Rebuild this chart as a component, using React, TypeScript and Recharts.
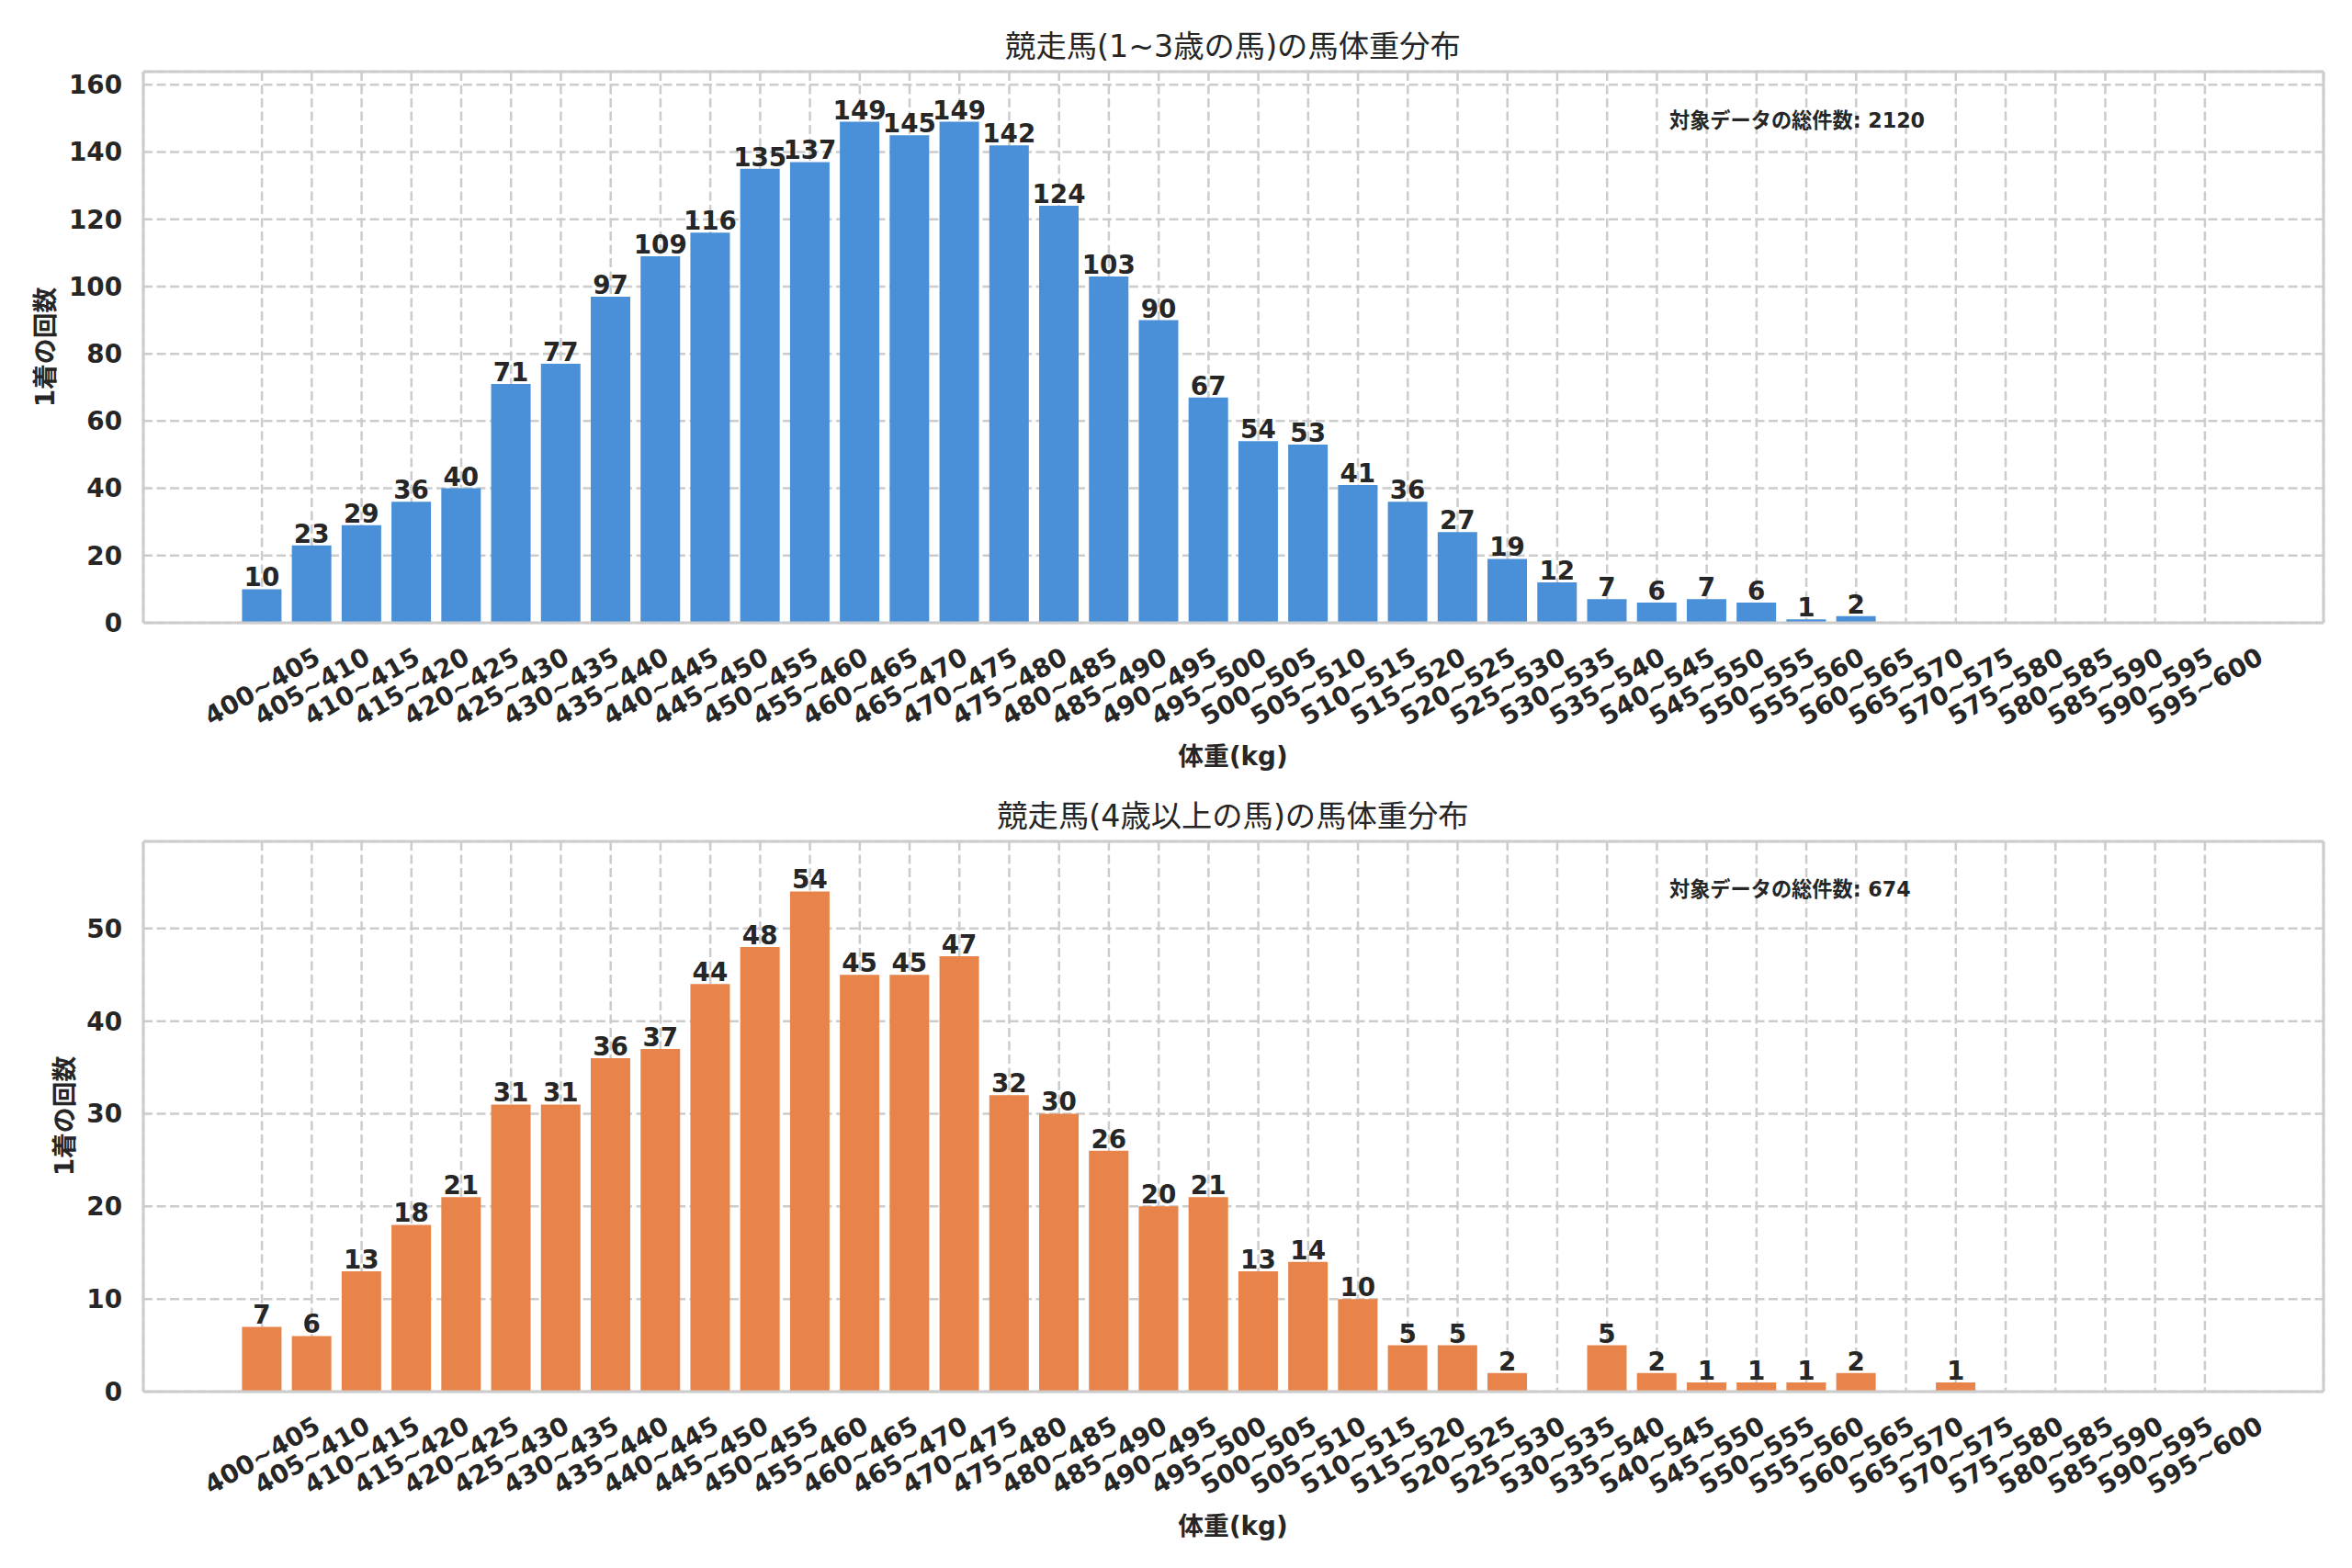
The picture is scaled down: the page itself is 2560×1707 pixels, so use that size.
import React from "react";
import { BarChart, Bar, XAxis, YAxis, CartesianGrid, LabelList } from "recharts";

const RANGES = [
  "400~405", "405~410", "410~415", "415~420", "420~425", "425~430", "430~435", "435~440",
  "440~445", "445~450", "450~455", "455~460", "460~465", "465~470", "470~475", "475~480",
  "480~485", "485~490", "490~495", "495~500", "500~505", "505~510", "510~515", "515~520",
  "520~525", "525~530", "530~535", "535~540", "540~545", "545~550", "550~555", "555~560",
  "560~565", "565~570", "570~575", "575~580", "580~585", "585~590", "590~595", "595~600",
];

const YOUNG = [
  10, 23, 29, 36, 40, 71, 77, 97, 109, 116, 135, 137, 149, 145, 149, 142, 124, 103, 90, 67,
  54, 53, 41, 36, 27, 19, 12, 7, 6, 7, 6, 1, 2, 0, 0, 0, 0, 0, 0, 0,
];

const OLDER = [
  7, 6, 13, 18, 21, 31, 31, 36, 37, 44, 48, 54, 45, 45, 47, 32, 30, 26, 20, 21,
  13, 14, 10, 5, 5, 2, 0, 5, 2, 1, 1, 1, 2, 0, 1, 0, 0, 0, 0, 0,
];

const YOUNG_TICKS = [0, 20, 40, 60, 80, 100, 120, 140, 160];
const OLDER_TICKS = [0, 10, 20, 30, 40, 50];

const TITLES = ["競走馬(1~3歳の馬)の馬体重分布", "競走馬(4歳以上の馬)の馬体重分布"];
const X_LABEL = "体重(kg)";
const Y_LABEL = "1着の回数";
const TOTAL_LABEL = "対象データの総件数";

const FONT = "'DejaVu Sans', 'Noto Sans CJK JP', sans-serif";
const INK = "#262626";
const LINE = "#cccccc";

const youngData = RANGES.map((range, i) => ({ range, count: YOUNG[i] }));
const olderData = RANGES.map((range, i) => ({ range, count: OLDER[i] }));
const sum = (a: number[]) => a.reduce((s, v) => s + v, 0);

function RotatedTick({ x, y, payload }: any) {
  const cy = y + 67;
  return (
    <text
      x={x}
      y={cy}
      dy="0.36em"
      textAnchor="middle"
      transform={`rotate(-30, ${x}, ${cy})`}
      fill={INK}
      fontFamily={FONT}
      fontWeight="bold"
      fontSize={27.8}
    >
      {payload.value}
    </text>
  );
}

function ValueLabel({ x, y, width, value }: any) {
  const v = Number(value);
  if (!v) return null;
  return (
    <text
      x={Number(x) + Number(width) / 2}
      y={Number(y) - 3}
      textAnchor="middle"
      fill={INK}
      fontFamily={FONT}
      fontWeight="bold"
      fontSize={27.8}
    >
      {v}
    </text>
  );
}

function Panel({ data, ticks, color, height, margin }: any) {
  return (
    <BarChart width={2560} height={height} data={data} margin={margin} barCategoryGap="10%">
      <CartesianGrid stroke={LINE} strokeDasharray="10 4.5" strokeWidth={2.5} />
      <XAxis
        dataKey="range"
        interval={0}
        height={1}
        tickLine={false}
        tickSize={0}
        tick={<RotatedTick />}
        axisLine={{ stroke: LINE, strokeWidth: 3 }}
        padding={{ left: 102, right: 102 }}
      />
      <XAxis
        xAxisId="top"
        orientation="top"
        dataKey="range"
        height={1}
        tick={false}
        tickLine={false}
        axisLine={{ stroke: LINE, strokeWidth: 3 }}
        padding={{ left: 102, right: 102 }}
      />
      <YAxis
        type="number"
        ticks={ticks}
        domain={[0, (max: number) => max * 1.1]}
        width={1}
        tickLine={false}
        tickSize={0}
        tickMargin={23}
        tick={{ fill: INK, fontSize: 27.8, fontWeight: "bold", fontFamily: FONT }}
        axisLine={{ stroke: LINE, strokeWidth: 3 }}
      />
      <YAxis
        yAxisId="right"
        orientation="right"
        width={1}
        tick={false}
        tickLine={false}
        axisLine={{ stroke: LINE, strokeWidth: 3 }}
      />
      <Bar dataKey="count" fill={color} isAnimationActive={false}>
        <LabelList dataKey="count" content={<ValueLabel />} />
      </Bar>
    </BarChart>
  );
}

export default function App() {
  const txt = { fill: INK, fontFamily: FONT } as const;
  return (
    <div style={{ position: "absolute", left: 0, top: 0, width: 2560, height: 1707, background: "#fff" }}>
      <div style={{ position: "absolute", left: 0, top: 0 }}>
        <Panel
          data={youngData}
          ticks={YOUNG_TICKS}
          color="#4a90d9"
          height={880}
          margin={{ top: 77, right: 30, bottom: 201, left: 155 }}
        />
      </div>
      <div style={{ position: "absolute", left: 0, top: 880 }}>
        <Panel
          data={olderData}
          ticks={OLDER_TICKS}
          color="#e8844a"
          height={827}
          margin={{ top: 35, right: 30, bottom: 191, left: 155 }}
        />
      </div>
      <svg
        width={2560}
        height={1707}
        style={{ position: "absolute", left: 0, top: 0, pointerEvents: "none" }}
      >
        <text x={1342} y={62} textAnchor="middle" fontSize={33.3} {...txt}>{TITLES[0]}</text>
        <text x={1342} y={900} textAnchor="middle" fontSize={33.3} {...txt}>{TITLES[1]}</text>
        <text x={1342} y={833} textAnchor="middle" fontSize={27.8} fontWeight="bold" {...txt}>{X_LABEL}</text>
        <text x={1342} y={1671} textAnchor="middle" fontSize={27.8} fontWeight="bold" {...txt}>{X_LABEL}</text>
        <text x={49} y={378} dy="0.35em" textAnchor="middle" transform="rotate(-90, 49, 378)" fontSize={27.8} fontWeight="bold" {...txt}>{Y_LABEL}</text>
        <text x={70} y={1215} dy="0.35em" textAnchor="middle" transform="rotate(-90, 70, 1215)" fontSize={27.8} fontWeight="bold" {...txt}>{Y_LABEL}</text>
        <text x={1817} y={139} fontSize={22.2} fontWeight="bold" {...txt}>{`${TOTAL_LABEL}: ${sum(YOUNG)}`}</text>
        <text x={1817} y={976} fontSize={22.2} fontWeight="bold" {...txt}>{`${TOTAL_LABEL}: ${sum(OLDER)}`}</text>
      </svg>
    </div>
  );
}
